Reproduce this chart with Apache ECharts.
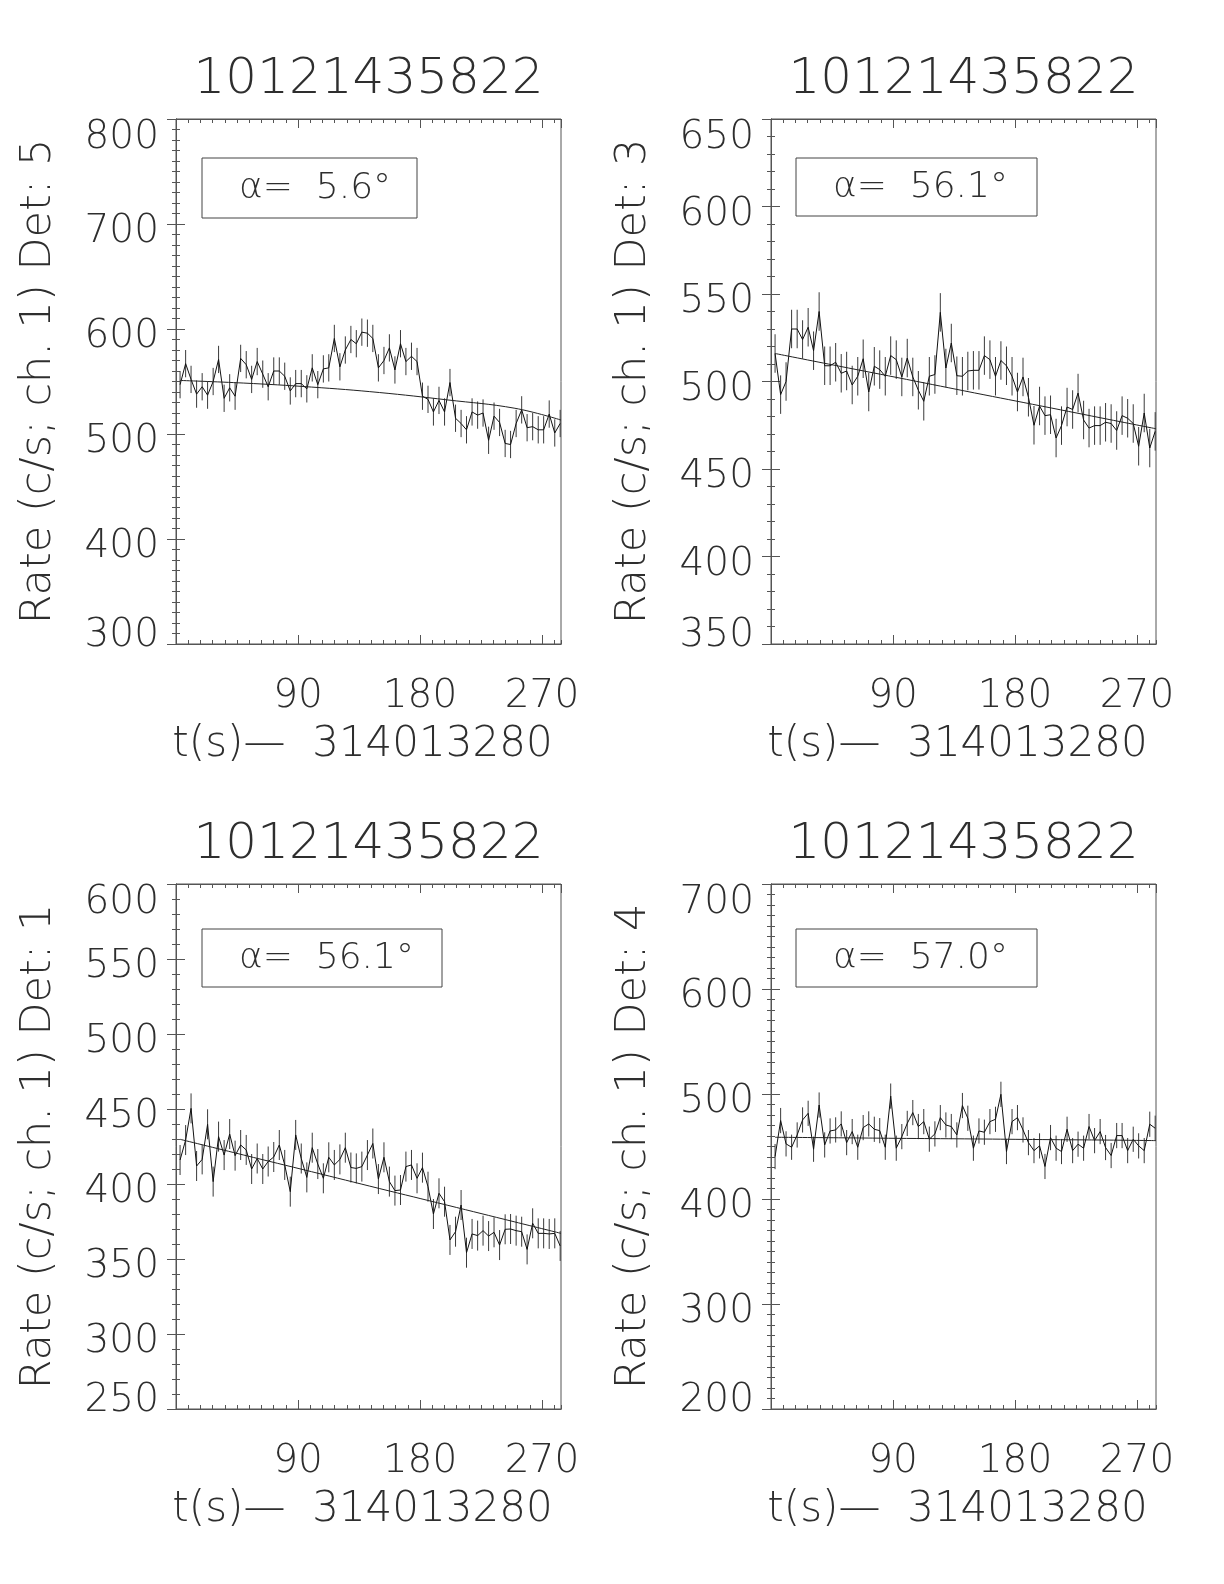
<!DOCTYPE html>
<html>
<head>
<meta charset="utf-8">
<script src="https://cdn.jsdelivr.net/npm/echarts@6/dist/echarts.min.js"></script>
<style>
  html, body { margin: 0; padding: 0; background: #fff; }
  #chart { width: 1224px; height: 1584px; }
</style>
</head>
<body>
<div id="chart"></div>
<script>
// ---------------- DATA ----------------
const title = '10121435822';
const xAxisTitle = 't(s)\u2014  314013280';
const xTickLabels = [90, 180, 270];

// bin times (s after 314013280)
const times = [3.0, 7.1, 11.1, 15.2, 19.3, 23.3, 27.4, 31.4, 35.5, 39.6,
  43.6, 47.7, 51.8, 55.8, 59.9, 64.0, 68.0, 72.1, 76.2, 80.2,
  84.3, 88.3, 92.4, 96.5, 100.5, 104.6, 108.7, 112.7, 116.8, 120.9,
  124.9, 129.0, 133.0, 137.1, 141.2, 145.2, 149.3, 153.4, 157.4, 161.5,
  165.6, 169.6, 173.7, 177.8, 181.8, 185.9, 189.9, 194.0, 198.1, 202.1,
  206.2, 210.3, 214.3, 218.4, 222.5, 226.5, 230.6, 234.6, 238.7, 242.8,
  246.8, 250.9, 255.0, 259.0, 263.1, 267.2, 271.2, 275.3, 279.4, 283.4];

// Det 5 (top-left)
const rateDet5 = [547, 567, 552, 538, 545, 537, 550, 571, 534, 544,
  536, 572, 566, 552, 569, 557, 545, 560, 560, 555,
  541, 548, 548, 543, 563, 547, 562, 563, 591, 564,
  580, 590, 586, 597, 596, 591, 563, 570, 582, 561,
  586, 569, 574, 569, 536, 533, 521, 532, 521, 549,
  515, 510, 504, 521, 518, 520, 494, 517, 511, 491,
  490, 510, 523, 506, 507, 504, 504, 519, 501, 510];
// Det 3 (top-right)
const rateDet3 = [516, 492.5, 500, 530, 530, 524, 531, 517.6, 540, 509,
  509, 511, 504.7, 506, 498, 503, 513, 494, 508.7, 506.8,
  503, 514.8, 512.5, 502.6, 513.4, 502.6, 495, 488.7, 503, 504,
  539.5, 507.7, 522, 503.3, 503, 506, 506.4, 506.4, 514.8, 512.5,
  503, 512, 509, 503, 494, 502.6, 491, 475, 486, 480.5,
  481, 467.7, 474.8, 485.4, 484, 493.4, 478, 473.4, 474.8, 474.8,
  476.7, 476, 472, 480.5, 479, 476, 463, 482, 462, 471.5];
// Det 1 (bottom-left)
const rateDet1 = [416, 429.3, 450.4, 412, 416.4, 439.8, 401.6, 431.6, 419.3, 433.3,
  418.9, 426, 422.7, 410, 417, 410, 415, 418, 426, 412.7,
  394.9, 432.7, 417, 404.4, 424.2, 413.3, 403.8, 417.8, 412.7, 416.4,
  424.2, 411, 410.4, 411.6, 419.3, 427, 403.3, 417.8, 401.6, 395.6,
  396, 411.6, 412.7, 403.8, 410.9, 398.2, 380, 393.8, 388.2, 362.7,
  368.2, 386, 354.2, 366.7, 365.6, 368.9, 365.3, 367.8, 359.3, 369.8,
  370, 368.9, 368.2, 356.4, 373.8, 367.1, 367.1, 366.7, 367.1, 358.7];
// Det 4 (bottom-right)
const rateDet4 = [440.4, 474.7, 452.5, 449.3, 461, 475.3, 481.6, 447.4, 489.5, 451.5,
  464.8, 465.8, 471.5, 453.7, 464.2, 449.3, 468, 471.5, 466.4, 465.1,
  449.3, 498, 448.4, 459.4, 472, 482.3, 469, 473.7, 457, 462,
  477.5, 470.5, 469, 461, 489, 476.9, 448.4, 464.8, 463.6, 473.7,
  475.9, 499.7, 445.2, 473.7, 477.5, 465.8, 453.7, 446.1, 450.6, 431,
  458.5, 448.4, 445.2, 466.4, 446.1, 452.2, 448.4, 469, 455.6, 464.2,
  449, 441.4, 460.4, 460.4, 446.1, 456.9, 450.6, 446.1, 471.2, 467.4];

// 1-sigma error of each panel (c/s)
const errDet5 = 13;
const errDet3 = 11;
const errDet1 = 10;
const errDet4 = 12;

// background fit curves
const fitTimes = [3, 50, 100, 150, 200, 250, 284];
const fitDet5 = [551, 548.5, 544.7, 539.5, 532.5, 524.5, 513.3];
const fitDet3 = [516, 508.8, 501.2, 493.5, 485.9, 478.2, 473];
const fitDet1 = [429.8, 419.3, 408.2, 397.0, 385.9, 374.7, 367.1];
const fitDet4 = [458.8, 458.3, 457.7, 457.2, 456.6, 456.1, 455.6];

const detectors = ['5', '3', '1', '4'];
const alphas = ['5.6', '56.1', '56.1', '57.0'];
const yTicks = [
  [300, 800, 100], [350, 650, 50], [250, 600, 50], [200, 700, 100]
];

// ---------------- LAYOUT ----------------
const rates = [rateDet5, rateDet3, rateDet1, rateDet4];
const errs = [errDet5, errDet3, errDet1, errDet4];
const fits = [fitDet5, fitDet3, fitDet1, fitDet4];
const layout = [
  { left: 176, top: 119, box: { x: 202, y: 158, w: 215, h: 60 } },
  { left: 771, top: 119, box: { x: 796, y: 158, w: 241, h: 58 } },
  { left: 176, top: 884, box: { x: 202, y: 929, w: 240, h: 58 } },
  { left: 771, top: 884, box: { x: 796, y: 929, w: 241, h: 58 } }
];
const W = 385, H = 525;
const FONT = 'DejaVu Sans';
const FW = 200;
const TXT = '#2e2e2e';
const AX = '#555';

const chart = echarts.init(document.getElementById('chart'), null, { renderer: 'canvas' });

const grid = [], xAxis = [], yAxis = [], series = [], graphic = [];

const tickRich = (sz) => ({
  t: { fontFamily: FONT, fontWeight: FW, fontSize: sz, color: TXT, lineHeight: 20, padding: [38, 0, 0, 0] },
  m: { fontFamily: FONT, fontWeight: FW, fontSize: sz, color: TXT, lineHeight: 20, padding: [16, 0, 0, 0] },
  b: { fontFamily: FONT, fontWeight: FW, fontSize: sz, color: TXT, lineHeight: 20, padding: [0, 0, 16, 0] }
});

layout.forEach((L, p) => {
  grid.push({ left: L.left, top: L.top, width: W, height: H, show: true,
    borderColor: AX, borderWidth: 1, containLabel: false });
  const xBase = { gridIndex: p, type: 'value', min: 0, max: 284,
    axisLine: { show: true, lineStyle: { color: AX, width: 1 } },
    splitLine: { show: false } };
  const xi = xAxis.length;
  // bottom major (labels)
  xAxis.push(Object.assign({}, xBase, {
    position: 'bottom', interval: 90,
    axisTick: { show: true, inside: true, length: 9, lineStyle: { color: AX } },
    axisLabel: { show: true, showMinLabel: false, showMaxLabel: false, margin: 33,
      fontFamily: FONT, fontWeight: FW, fontSize: 39, color: TXT,
      formatter: v => (xTickLabels.indexOf(v) >= 0 ? String(v) : '') },
    name: xAxisTitle, nameLocation: 'middle', nameGap: 80,
    nameTextStyle: { fontFamily: FONT, fontWeight: FW, fontSize: 42, color: TXT, padding: [0, 12, 0, 0] }
  }));
  // bottom minor
  xAxis.push(Object.assign({}, xBase, {
    position: 'bottom', interval: 9,
    axisTick: { show: true, inside: true, length: 4, lineStyle: { color: AX } },
    axisLabel: { show: false }
  }));
  // top major
  xAxis.push(Object.assign({}, xBase, {
    position: 'top', interval: 90,
    axisTick: { show: true, inside: true, length: 9, lineStyle: { color: AX } },
    axisLabel: { show: false }
  }));
  // top minor
  xAxis.push(Object.assign({}, xBase, {
    position: 'top', interval: 9,
    axisTick: { show: true, inside: true, length: 4, lineStyle: { color: AX } },
    axisLabel: { show: false }
  }));

  const [ymin, ymax, yint] = yTicks[p];
  const ysplit = yint === 100 ? 10 : 5;
  const yi = yAxis.length;
  yAxis.push({ gridIndex: p, type: 'value', position: 'left', min: ymin, max: ymax, interval: yint,
    axisLine: { show: true, lineStyle: { color: AX } },
    axisTick: { show: true, inside: true, length: 9, lineStyle: { color: AX } },
    minorTick: { show: true, splitNumber: ysplit, length: 4, lineStyle: { color: AX } },
    splitLine: { show: false },
    axisLabel: { show: true, margin: 17, fontFamily: FONT, fontWeight: FW, fontSize: 39, color: TXT,
      formatter: v => (v === ymax ? '{t|' + v + '}' : v === ymin ? '{b|' + v + '}' : '{m|' + v + '}'),
      rich: tickRich(39) },
    name: 'Rate (c/s; ch. 1) Det: ' + detectors[p], nameLocation: 'middle', nameGap: 116,
    nameTextStyle: { fontFamily: FONT, fontWeight: FW, fontSize: 43, color: TXT }
  });
  yAxis.push({ gridIndex: p, type: 'value', position: 'right', min: ymin, max: ymax, interval: yint,
    axisLine: { show: true, lineStyle: { color: AX } },
    axisTick: { show: true, inside: true, length: 9, lineStyle: { color: AX } },
    minorTick: { show: true, splitNumber: ysplit, length: 4, lineStyle: { color: AX } },
    splitLine: { show: false }, axisLabel: { show: false }
  });

  const r = rates[p], e = errs[p];
  // error bars
  series.push({ type: 'custom', xAxisIndex: xi, yAxisIndex: yi, clip: true,
    encode: { x: 0, y: [1, 2] },
    data: times.map((t, i) => [t, r[i] - e, r[i] + e]),
    renderItem: (params, api) => {
      const a = api.coord([api.value(0), api.value(1)]);
      const b = api.coord([api.value(0), api.value(2)]);
      return { type: 'line', shape: { x1: a[0], y1: a[1], x2: b[0], y2: b[1] },
        style: { stroke: '#3a3a3a', lineWidth: 1 } };
    }, silent: true, z: 2 });
  // rate line
  series.push({ type: 'line', xAxisIndex: xi, yAxisIndex: yi, showSymbol: false, symbol: 'none',
    data: times.map((t, i) => [t, r[i]]), lineStyle: { color: '#111', width: 1 }, z: 3, silent: true });
  // fit
  series.push({ type: 'line', xAxisIndex: xi, yAxisIndex: yi, showSymbol: false, symbol: 'none', smooth: 0.4,
    data: fitTimes.map((t, i) => [t, fits[p][i]]), lineStyle: { color: '#222', width: 1 }, z: 4, silent: true });

  // title
  graphic.push({ type: 'text', x: L.left + W / 2, y: L.top - 39,
    style: { text: title, textAlign: 'center', textVerticalAlign: 'middle',
      font: FW + ' 50px "' + FONT + '"', fill: TXT } });
  // alpha box
  graphic.push({ type: 'rect', shape: { x: L.box.x, y: L.box.y, width: L.box.w, height: L.box.h },
    style: { fill: 'none', stroke: '#444', lineWidth: 1 } });
  graphic.push({ type: 'text', x: L.box.x + 37, y: L.box.y + L.box.h / 2 + 1,
    style: { text: '\u03b1=  ' + alphas[p] + '\u00b0', textVerticalAlign: 'middle', textAlign: 'left',
      font: FW + ' 36px "' + FONT + '"', fill: TXT } });
});

chart.setOption({ animation: false, backgroundColor: '#fff', grid, xAxis, yAxis, series, graphic });
</script>
</body>
</html>
